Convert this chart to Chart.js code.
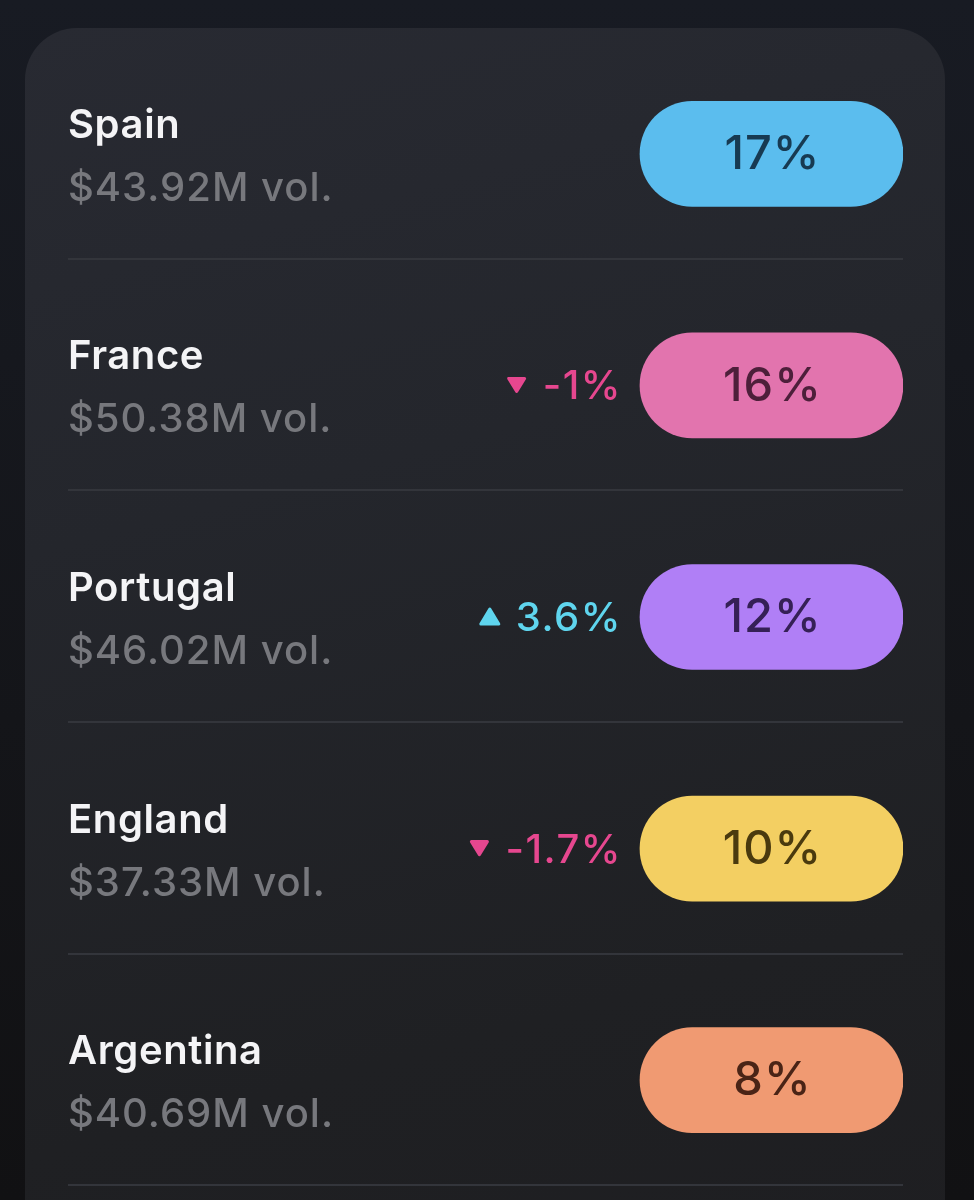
<!DOCTYPE html>
<html>
<head>
<meta charset="utf-8">
<script src="https://cdn.jsdelivr.net/npm/chart.js@4.4.1/dist/chart.umd.min.js"></script>
<style>
  html, body {
    margin: 0;
    padding: 0;
    width: 974px;
    height: 1200px;
    overflow: hidden;
    background: linear-gradient(180deg, #181b23 0%, #141519 60%, #111113 100%);
  }
  .card {
    position: absolute;
    left: 25px;
    top: 28px;
    width: 920px;
    height: 1260px;
    border-radius: 52px;
    background: linear-gradient(165deg, #282a32 0%, #24262c 35%, #1f2023 75%, #1e1e21 100%);
  }
  #marketChart {
    position: absolute;
    left: 0;
    top: 0;
  }
</style>
</head>
<body>
<div class="card"></div>
<canvas id="marketChart" width="974" height="1200"></canvas>
<script>
const countries = ["Spain", "France", "Portugal", "England", "Argentina"];
const volumes = [43.92, 50.38, 46.02, 37.33, 40.69]; // $M
const shares = [17, 16, 12, 10, 8]; // %
const changes = [null, -1, 3.6, -1.7, null]; // % points

const pillColors = ["#5bbdee", "#e274ae", "#b07ff6", "#f3cf62", "#f09a72"];
const pillTextColors = ["#173a52", "#4d1f3a", "#352056", "#4a3a0e", "#4a2416"];
const PILL_FROM = 0.685;

const rowText = {
  id: "rowText",
  beforeDatasetsDraw(chart) {
    const { ctx, chartArea, scales } = chart;
    ctx.save();
    ctx.strokeStyle = "#33353b";
    ctx.lineWidth = 2;
    countries.forEach((c, i) => {
      const y = Math.round(scales.y.getPixelForValue(i) + 105);
      ctx.beginPath();
      ctx.moveTo(chartArea.left, y);
      ctx.lineTo(chartArea.right, y);
      ctx.stroke();
    });
    ctx.restore();
  },
  afterDatasetsDraw(chart) {
    const { ctx, chartArea, scales } = chart;
    const pillMid = scales.x.getPixelForValue((PILL_FROM + 1) / 2);
    const pillLeft = scales.x.getPixelForValue(PILL_FROM);
    ctx.save();
    countries.forEach((c, i) => {
      const y = scales.y.getPixelForValue(i);

      ctx.textAlign = "left";
      ctx.textBaseline = "alphabetic";
      ctx.letterSpacing = "0.6px";
      ctx.fillStyle = "#f4f4f6";
      ctx.font = "600 40px Inter";
      ctx.fillText(c, chartArea.left, y - 16);

      ctx.fillStyle = "#77787d";
      ctx.font = "500 40px Inter";
      ctx.letterSpacing = "1px";
      ctx.fillText("$" + volumes[i].toFixed(2) + "M vol.", chartArea.left, y + 47);

      ctx.textAlign = "center";
      ctx.textBaseline = "middle";
      ctx.fillStyle = pillTextColors[i];
      ctx.font = "500 47px Inter";
      ctx.letterSpacing = "1px";
      ctx.fillText(shares[i] + "%", pillMid + 1, y + 1);

      const ch = changes[i];
      if (ch !== null) {
        const up = ch > 0;
        const col = up ? "#5fd5ee" : "#e6478f";
        const label = (up ? "" : "-") + Math.abs(ch) + "%";
        ctx.font = "500 40px Inter";
        ctx.letterSpacing = "1.5px";
        ctx.textAlign = "right";
        ctx.fillStyle = col;
        const right = pillLeft - 18;
        ctx.fillText(label, right, y + 2);
        const w = ctx.measureText(label).width;
        const cx = right - w - 26;
        ctx.beginPath();
        ctx.lineJoin = "round";
        ctx.lineWidth = 3;
        ctx.strokeStyle = col;
        if (up) {
          ctx.moveTo(cx, y - 8);
          ctx.lineTo(cx + 9, y + 7);
          ctx.lineTo(cx - 9, y + 7);
        } else {
          ctx.moveTo(cx - 8, y - 7);
          ctx.lineTo(cx + 8, y - 7);
          ctx.lineTo(cx, y + 6);
        }
        ctx.closePath();
        ctx.fill();
        ctx.stroke();
      }
    });
    ctx.restore();
  }
};

const ctx = document.getElementById("marketChart").getContext("2d");
new Chart(ctx, {
  type: "bar",
  data: {
    labels: countries,
    datasets: [
      {
        label: "Share",
        data: shares.map(() => [PILL_FROM, 1]),
        backgroundColor: pillColors,
        borderRadius: 60,
        borderSkipped: false,
        barThickness: 105,
      },
    ],
  },
  options: {
    indexAxis: "y",
    responsive: false,
    animation: false,
    layout: { padding: { left: 68, right: 71, top: 38, bottom: 4 } },
    plugins: {
      legend: { display: false },
      tooltip: { enabled: false },
    },
    scales: {
      x: { display: false, min: 0, max: 1 },
      y: { display: false },
    },
  },
  plugins: [rowText],
});
</script>
</body>
</html>
